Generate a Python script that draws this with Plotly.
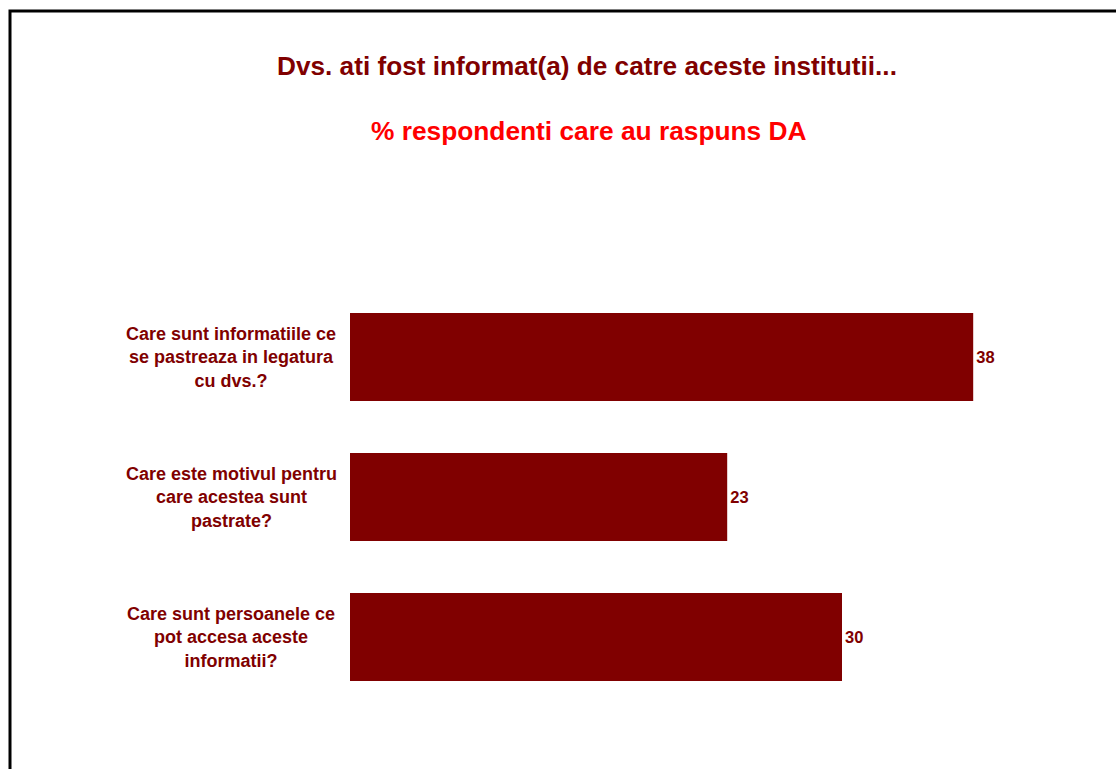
import plotly.graph_objects as go

# Survey answers: share of respondents who said "DA"
questions = [
    "Care sunt informatiile ce<br>se pastreaza in legatura<br>cu dvs.?",
    "Care este motivul pentru<br>care acestea sunt<br>pastrate?",
    "Care sunt persoanele ce<br>pot accesa aceste<br>informatii?",
]
share_da = [38, 23, 30]

title_text = "Dvs. ati fost informat(a) de catre aceste institutii..."
subtitle_text = "% respondenti care au raspuns DA"

W, H = 1116, 769
ML, MR, MT, MB = 350, 110, 287, 62
PW = W - ML - MR
PH = H - MT - MB

DARK_RED = "#800000"
FONT = "Liberation Sans, Arial, sans-serif"


def px_x(px):
    return (px - ML) / PW


def px_y(py):
    return (H - MB - py) / PH


fig = go.Figure()
fig.add_trace(go.Bar(
    x=share_da,
    y=list(range(len(questions))),
    orientation="h",
    width=0.63,
    marker=dict(color=DARK_RED, line=dict(width=0)),
    text=[str(v) for v in share_da],
    textposition="outside",
    textfont=dict(family=FONT, size=16.5, color=DARK_RED, weight="bold"),
    cliponaxis=False,
    hoverinfo="skip",
))

annotations = []
# category labels, centred text blocks left of the bars
for i, q in enumerate(questions):
    annotations.append(dict(
        xref="paper", yref="y", x=px_x(231), y=i,
        text=f"<b>{q}</b>", showarrow=False, align="center",
        xanchor="center", yanchor="middle",
        font=dict(family=FONT, size=18, color=DARK_RED),
    ))

annotations.append(dict(
    xref="paper", yref="paper", x=px_x(587), y=px_y(66),
    text=f"<b>{title_text}</b>", showarrow=False,
    xanchor="center", yanchor="middle",
    font=dict(family=FONT, size=26.2, color=DARK_RED),
))
annotations.append(dict(
    xref="paper", yref="paper", x=px_x(588), y=px_y(131),
    text=f"<b>{subtitle_text}</b>", showarrow=False,
    xanchor="center", yanchor="middle",
    font=dict(family=FONT, size=26.3, color="#FF0000"),
))

# chart frame (extends past the right and bottom edges)
shapes = [dict(
    type="rect", xref="paper", yref="paper",
    x0=px_x(10), y0=px_y(11), x1=px_x(W + 20), y1=px_y(H + 20),
    line=dict(color="black", width=3), fillcolor="rgba(0,0,0,0)",
    layer="above",
)]

fig.update_layout(
    width=W, height=H,
    margin=dict(l=ML, r=MR, t=MT, b=MB, pad=0),
    paper_bgcolor="white", plot_bgcolor="white",
    showlegend=False,
    xaxis=dict(range=[0, 40], visible=False, fixedrange=True),
    yaxis=dict(range=[2.5, -0.5], visible=False, fixedrange=True),
    annotations=annotations,
    shapes=shapes,
    uniformtext=dict(mode=False),
)

fig.write_html("out.html", config={"displayModeBar": False})
